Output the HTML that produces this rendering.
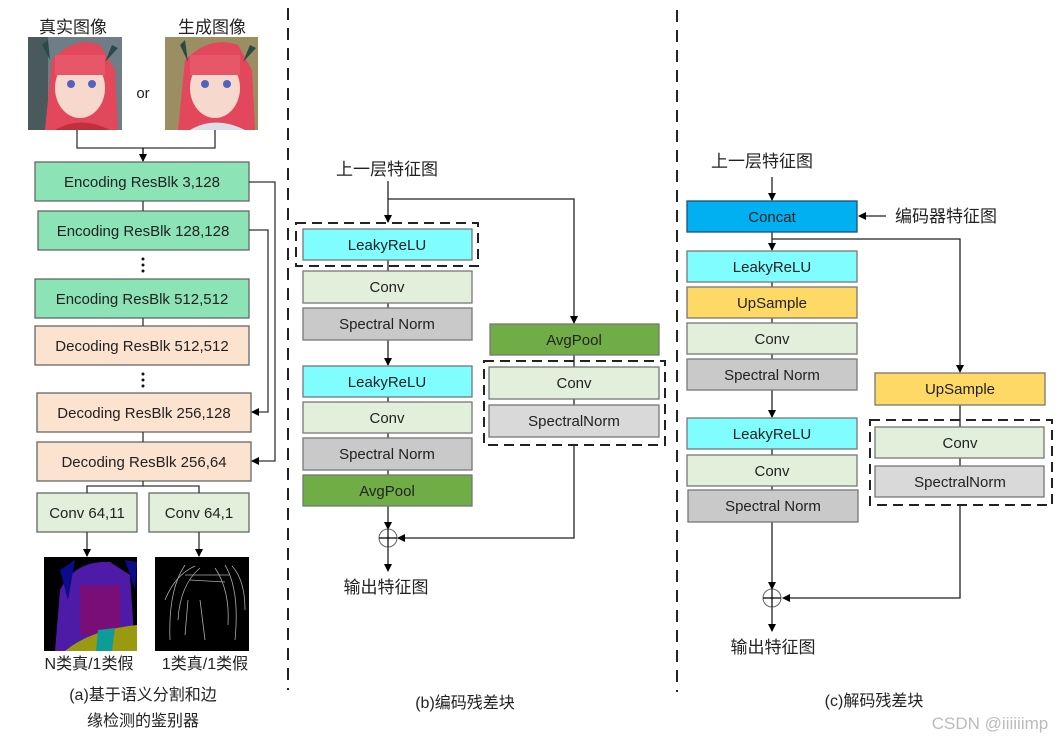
<!DOCTYPE html>
<html><head><meta charset="utf-8">
<style>
html,body{margin:0;padding:0;background:#fff;}
svg text{font-family:"Liberation Sans","Noto Sans CJK SC",sans-serif;}
</style></head>
<body>
<svg width="1061" height="740" viewBox="0 0 1061 740" xmlns="http://www.w3.org/2000/svg">
<defs>
<marker id="a" markerWidth="8" markerHeight="8" refX="7" refY="4" orient="auto" markerUnits="userSpaceOnUse">
<path d="M0,0 L8,4 L0,8 Z" fill="#000"/></marker>
</defs>
<g font-size="15" text-anchor="middle" fill="#222">

<!-- dashed separators -->
<line x1="288" y1="8" x2="288" y2="690" stroke="#222" stroke-width="2" stroke-dasharray="12,8"/>
<line x1="677" y1="10" x2="677" y2="692" stroke="#222" stroke-width="2" stroke-dasharray="12,8"/>

<!-- ============ LEFT ============ -->
<text x="73" y="33" font-size="17">真实图像</text>
<text x="212" y="33" font-size="17">生成图像</text>
<!-- image 1 -->
<g>
<rect x="28" y="37" width="94" height="93" fill="#6f7d86"/>
<rect x="28" y="37" width="20" height="93" fill="#4a5a5c"/>
<path d="M45,130 L52,60 Q75,35 100,45 L115,70 L118,130 Z" fill="#e2475c"/>
<ellipse cx="80" cy="88" rx="25" ry="30" fill="#f6d9cc"/>
<rect x="55" y="55" width="50" height="20" fill="#e8566a"/>
<circle cx="71" cy="84" r="4" fill="#5560c0"/><circle cx="92" cy="84" r="4" fill="#5560c0"/>
<path d="M55,130 Q80,115 110,130 Z" fill="#c0303c"/>
<path d="M42,45 L50,60 L48,40 Z M112,45 L105,62 L118,48 Z" fill="#2a4a48"/>
</g>
<text x="143" y="98" font-size="15">or</text>
<!-- image 2 -->
<g>
<rect x="165" y="37" width="93" height="93" fill="#9c8e63"/>
<path d="M178,130 L185,60 Q210,35 238,45 L252,70 L255,130 Z" fill="#e2475c"/>
<ellipse cx="215" cy="88" rx="25" ry="30" fill="#f6d9cc"/>
<rect x="190" y="55" width="50" height="20" fill="#e8566a"/>
<circle cx="205" cy="84" r="4" fill="#5560c0"/><circle cx="227" cy="84" r="4" fill="#5560c0"/>
<path d="M190,130 Q215,115 245,130 Z" fill="#dcdfe8"/>
<path d="M180,45 L188,62 L185,40 Z M250,45 L243,62 L256,48 Z" fill="#2a4a48"/>
</g>
<polyline points="77,130 77,148 215,148 215,130" fill="none" stroke="#333" stroke-width="1.3"/>
<line x1="143" y1="148" x2="143" y2="161" stroke="#000" stroke-width="1.3" marker-end="url(#a)"/>

<g stroke="#666" stroke-width="1.3">
<rect x="35" y="162" width="214" height="39" fill="#8ce3b6"/>
<rect x="38" y="211" width="211" height="39" fill="#8ce3b6"/>
<rect x="35" y="279" width="214" height="39" fill="#8ce3b6"/>
<rect x="35" y="326" width="214" height="39" fill="#fbe3d0"/>
<rect x="37" y="393" width="214" height="39" fill="#fbe3d0"/>
<rect x="37" y="442" width="214" height="39" fill="#fbe3d0"/>
<rect x="37" y="493" width="100" height="39" fill="#e2efda"/>
<rect x="149" y="493" width="100" height="39" fill="#e2efda"/>
</g>
<g stroke="#333" stroke-width="1.3" fill="none">
<line x1="143" y1="201" x2="143" y2="211"/>
<line x1="143" y1="318" x2="143" y2="326"/>
<line x1="143" y1="432" x2="143" y2="442"/>
<polyline points="143,481 143,486 87,486 87,493"/>
<polyline points="143,486 199,486 199,493"/>
<polyline points="249,182 275,182 275,461 252,461" marker-end="url(#a)"/>
<polyline points="249,230 268,230 268,412 252,412" marker-end="url(#a)"/>
<line x1="87" y1="532" x2="87" y2="556" marker-end="url(#a)"/>
<line x1="199" y1="532" x2="199" y2="556" marker-end="url(#a)"/>
</g>
<g fill="#111">
<circle cx="143" cy="259" r="1.5"/><circle cx="143" cy="265" r="1.5"/><circle cx="143" cy="271" r="1.5"/>
<circle cx="143" cy="374" r="1.5"/><circle cx="143" cy="380" r="1.5"/><circle cx="143" cy="386" r="1.5"/>
</g>
<text x="142" y="187">Encoding ResBlk 3,128</text>
<text x="143" y="236">Encoding ResBlk 128,128</text>
<text x="142" y="304">Encoding ResBlk 512,512</text>
<text x="142" y="351">Decoding ResBlk 512,512</text>
<text x="144" y="418">Decoding ResBlk 256,128</text>
<text x="144" y="467">Decoding ResBlk 256,64</text>
<text x="87" y="518">Conv 64,11</text>
<text x="199" y="518">Conv 64,1</text>
<!-- seg image -->
<g>
<rect x="44" y="557" width="93" height="94" fill="#000"/>
<path d="M55,651 L60,590 Q75,560 110,562 L130,575 L135,651 Z" fill="#4e1aa8"/>
<rect x="80" y="585" width="40" height="50" fill="#7a0e78"/>
<path d="M65,651 Q90,630 137,625 L137,651 Z" fill="#9a9a10"/>
<path d="M98,630 L115,628 L112,651 L96,651 Z" fill="#0e9c98"/>
<path d="M60,570 L75,560 L68,600 Z M125,560 L137,562 L135,590 Z" fill="#0b0b8c"/>
</g>
<!-- edge image -->
<g>
<rect x="155" y="557" width="94" height="94" fill="#000"/>
<g stroke="#aaa" stroke-width="0.8" fill="none">
<path d="M170,640 Q168,590 185,565"/><path d="M178,620 Q180,585 200,568"/>
<path d="M235,640 Q240,590 225,565"/><path d="M228,625 Q230,590 215,568"/>
<path d="M185,575 L230,575"/><path d="M190,580 L225,582"/>
<path d="M165,600 Q175,575 195,566"/><path d="M245,610 Q245,580 232,566"/>
<path d="M200,600 L205,640"/><path d="M188,600 L185,635"/>
</g>
</g>
<text x="89" y="669" font-size="16">N类真/1类假</text>
<text x="205" y="669" font-size="16">1类真/1类假</text>
<text x="143" y="700" font-size="16">(a)基于语义分割和边</text>
<text x="143" y="726" font-size="16">缘检测的鉴别器</text>

<!-- ============ MIDDLE ============ -->
<text x="387" y="175" font-size="17">上一层特征图</text>
<g stroke="#222" stroke-width="1.3" fill="none">
<line x1="388" y1="181" x2="388" y2="222" marker-end="url(#a)"/>
<polyline points="388,199 574,199 574,323" marker-end="url(#a)"/>
<line x1="388" y1="340" x2="388" y2="365" marker-end="url(#a)"/>
<line x1="388" y1="260" x2="388" y2="271"/>
<line x1="388" y1="303" x2="388" y2="308"/>
<line x1="388" y1="397" x2="388" y2="402"/>
<line x1="388" y1="433" x2="388" y2="438"/>
<line x1="388" y1="470" x2="388" y2="475"/>
<line x1="574" y1="355" x2="574" y2="367"/>
<line x1="574" y1="399" x2="574" y2="405"/>
<line x1="388" y1="506" x2="388" y2="529" marker-end="url(#a)"/>
<polyline points="574,445 574,538 398,538" marker-end="url(#a)"/>
<line x1="388" y1="547" x2="388" y2="571" marker-end="url(#a)"/>
</g>
<circle cx="388" cy="538" r="9" fill="#fff" stroke="#666" stroke-width="1"/>
<line x1="379" y1="538" x2="397" y2="538" stroke="#000" stroke-width="1.2"/>
<line x1="388" y1="529" x2="388" y2="547" stroke="#000" stroke-width="1.2"/>
<rect x="296" y="223" width="182" height="43" fill="none" stroke="#222" stroke-width="2" stroke-dasharray="10,6"/>
<rect x="484" y="361" width="181" height="84" fill="none" stroke="#222" stroke-width="2" stroke-dasharray="10,6"/>
<g stroke="#777" stroke-width="1.3">
<rect x="303" y="229" width="169" height="31" fill="#7ffdff"/>
<rect x="303" y="271" width="169" height="32" fill="#e2efda"/>
<rect x="303" y="308" width="169" height="32" fill="#c9c9c9"/>
<rect x="303" y="366" width="169" height="31" fill="#7ffdff"/>
<rect x="303" y="402" width="169" height="31" fill="#e2efda"/>
<rect x="303" y="438" width="169" height="32" fill="#c9c9c9"/>
<rect x="303" y="475" width="169" height="31" fill="#70ad47"/>
<rect x="490" y="324" width="169" height="31" fill="#70ad47"/>
<rect x="489" y="367" width="170" height="32" fill="#e2efda"/>
<rect x="489" y="405" width="170" height="32" fill="#d9d9d9"/>
</g>
<text x="387" y="250">LeakyReLU</text>
<text x="387" y="292">Conv</text>
<text x="387" y="329">Spectral Norm</text>
<text x="387" y="387">LeakyReLU</text>
<text x="387" y="423">Conv</text>
<text x="387" y="459">Spectral Norm</text>
<text x="387" y="496">AvgPool</text>
<text x="574" y="345">AvgPool</text>
<text x="574" y="388">Conv</text>
<text x="574" y="426">SpectralNorm</text>
<text x="386" y="593" font-size="17">输出特征图</text>
<text x="465" y="708" font-size="16">(b)编码残差块</text>

<!-- ============ RIGHT ============ -->
<text x="762" y="167" font-size="17">上一层特征图</text>
<text x="946" y="222" font-size="17">编码器特征图</text>
<g stroke="#222" stroke-width="1.3" fill="none">
<line x1="772" y1="177" x2="772" y2="200" marker-end="url(#a)"/>
<line x1="886" y1="216" x2="859" y2="216" marker-end="url(#a)"/>
<line x1="772" y1="232" x2="772" y2="250" marker-end="url(#a)"/>
<polyline points="772,239 960,239 960,372" marker-end="url(#a)"/>
<line x1="772" y1="282" x2="772" y2="287"/>
<line x1="772" y1="318" x2="772" y2="323"/>
<line x1="772" y1="354" x2="772" y2="359"/>
<line x1="772" y1="390" x2="772" y2="417" marker-end="url(#a)"/>
<line x1="772" y1="449" x2="772" y2="455"/>
<line x1="772" y1="486" x2="772" y2="490"/>
<line x1="960" y1="405" x2="960" y2="427"/>
<line x1="960" y1="458" x2="960" y2="466"/>
<line x1="772" y1="522" x2="772" y2="589" marker-end="url(#a)"/>
<polyline points="960,505 960,598 783,598" marker-end="url(#a)"/>
<line x1="772" y1="607" x2="772" y2="631" marker-end="url(#a)"/>
</g>
<circle cx="772" cy="598" r="9" fill="#fff" stroke="#666" stroke-width="1"/>
<line x1="763" y1="598" x2="781" y2="598" stroke="#000" stroke-width="1.2"/>
<line x1="772" y1="589" x2="772" y2="607" stroke="#000" stroke-width="1.2"/>
<rect x="870" y="420" width="182" height="85" fill="none" stroke="#222" stroke-width="2" stroke-dasharray="10,6"/>
<g stroke="#777" stroke-width="1.3">
<rect x="687" y="201" width="170" height="31" fill="#00b0f0" stroke="#1f4e79"/>
<rect x="687" y="251" width="170" height="31" fill="#7ffdff"/>
<rect x="687" y="287" width="170" height="31" fill="#ffd966"/>
<rect x="687" y="323" width="170" height="31" fill="#e2efda"/>
<rect x="687" y="359" width="170" height="31" fill="#c9c9c9"/>
<rect x="687" y="418" width="170" height="31" fill="#7ffdff"/>
<rect x="687" y="455" width="170" height="31" fill="#e2efda"/>
<rect x="688" y="490" width="170" height="32" fill="#c9c9c9"/>
<rect x="875" y="373" width="170" height="32" fill="#ffd966"/>
<rect x="875" y="427" width="169" height="31" fill="#e2efda"/>
<rect x="875" y="466" width="169" height="31" fill="#d9d9d9"/>
</g>
<text x="772" y="222">Concat</text>
<text x="772" y="272">LeakyReLU</text>
<text x="772" y="308">UpSample</text>
<text x="772" y="344">Conv</text>
<text x="772" y="380">Spectral Norm</text>
<text x="772" y="439">LeakyReLU</text>
<text x="772" y="476">Conv</text>
<text x="773" y="511">Spectral Norm</text>
<text x="960" y="394">UpSample</text>
<text x="960" y="448">Conv</text>
<text x="960" y="487">SpectralNorm</text>
<text x="773" y="653" font-size="17">输出特征图</text>
<text x="874" y="706" font-size="16">(c)解码残差块</text>
<text x="990" y="729" font-size="17" fill="#bbbbbb">CSDN @iiiiiimp</text>
</g>
</svg>
</body></html>
